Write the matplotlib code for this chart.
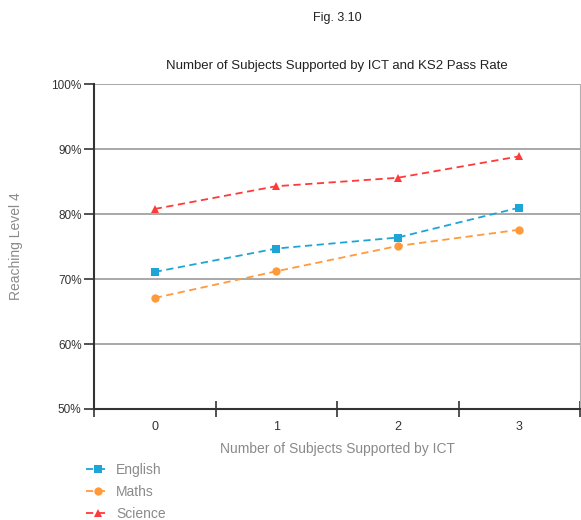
""" ICT support vs KS2 pass rate """

import matplotlib
matplotlib.use("Agg")
import matplotlib.pyplot
import matplotlib.ticker

OUTPUT = "out.png"

subjects_supported = [0, 1, 2, 3]
english = [71.1, 74.7, 76.4, 81.0]
maths = [67.1, 71.2, 75.1, 77.6]
science = [80.8, 84.3, 85.6, 88.9]

series_names = ["English", "Maths", "Science"]
y_ticks = [50, 60, 70, 80, 90, 100]


def plot_pass_rate():
    matplotlib.pyplot.rcParams["font.family"] = ["Liberation Sans", "DejaVu Sans"]

    fig = matplotlib.pyplot.figure(figsize=(5.81, 5.2), dpi=100)
    ax = fig.add_axes([0.1618, 0.2135, 0.8365, 0.6245])

    colors = ["#1ea5d8", "#ff9a3c", "#ff3a3a"]
    markers = ["s", "o", "^"]
    for values, name, color, marker in zip([english, maths, science], series_names, colors, markers):
        ax.plot(subjects_supported, values, linestyle=(0, (4, 2.5)), color=color, linewidth=1.3,
                marker=marker, markersize=6, markeredgewidth=0, label=name)

    ax.set_xlim(-0.5, 3.5)
    ax.set_ylim(50, 100)
    ax.set_yticks(y_ticks)
    ax.yaxis.set_major_formatter(matplotlib.ticker.FuncFormatter(lambda v, p: "{:d}%".format(int(v))))
    ax.grid(axis="y", color="#9a9a9a", linewidth=1.2)
    ax.set_axisbelow(True)

    # category labels sit between the tick marks
    ax.set_xticks([-0.5, 0.5, 1.5, 2.5, 3.5])
    ax.set_xticklabels([])
    ax.set_xticks(subjects_supported, minor=True)
    ax.set_xticklabels([str(v) for v in subjects_supported], minor=True, fontsize=9, color="#333333")
    ax.tick_params(axis="x", which="minor", length=0, pad=9)
    ax.tick_params(axis="x", which="major", direction="inout", length=12, width=1.2, color="#333333")
    ax.tick_params(axis="y", direction="out", length=7, width=1.2, color="#333333",
                   labelsize=8.5, labelcolor="#333333", pad=2)

    ax.spines["top"].set_visible(False)
    ax.spines["right"].set_color("#b0b0b0")
    ax.spines["left"].set_color("#333333")
    ax.spines["left"].set_linewidth(1.5)
    ax.spines["bottom"].set_color("#333333")
    ax.spines["bottom"].set_linewidth(1.5)

    ax.set_xlabel("Number of Subjects Supported by ICT", color="#8a8a8a", fontsize=10, labelpad=6)
    ax.set_ylabel("Reaching Level 4", color="#8a8a8a", fontsize=10, labelpad=20)

    fig.text(0.58, 0.965, "Fig. 3.10", ha="center", va="center", fontsize=9, color="#222222")
    fig.text(0.58, 0.873, "Number of Subjects Supported by ICT and KS2 Pass Rate",
             ha="center", va="center", fontsize=9.5, color="#222222")

    fig.legend(loc="lower left", bbox_to_anchor=(0.138, -0.013), frameon=False, fontsize=10,
               labelcolor="#8a8a8a", handlelength=1.7, handletextpad=0.5, labelspacing=0.6,
               borderaxespad=0)

    matplotlib.pyplot.savefig(OUTPUT)
    matplotlib.pyplot.close()


if __name__ == "__main__":
    plot_pass_rate()
